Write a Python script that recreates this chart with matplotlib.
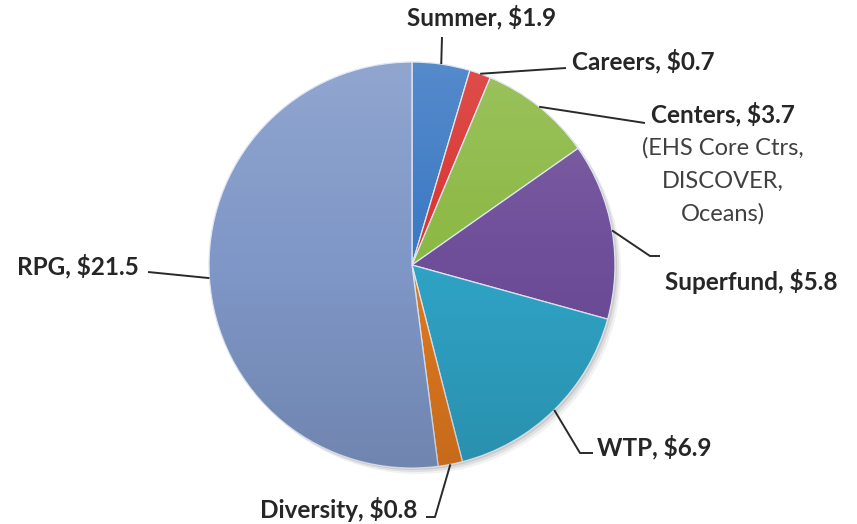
import numpy as np
import matplotlib.pyplot as plt

plt.rcParams["font.family"] = ["Lato", "DejaVu Sans"]

# budget by program ($ millions)
labels = ["Summer", "Careers", "Centers", "Superfund", "WTP", "Diversity", "RPG"]
values = [1.9, 0.7, 3.7, 5.8, 6.9, 0.8, 21.5]
colors = ["#3a78c3", "#d9322e", "#8bb843", "#6e4d99", "#2fa3c5", "#e0791f", "#7f97c7"]
centers_note = ["(EHS Core Ctrs,", "DISCOVER,", "Oceans)"]

W, H = 857, 524
cx, cy, r = 412, 265, 203

fig = plt.figure(figsize=(W / 100, H / 100), dpi=100)
ax = fig.add_axes([0, 0, 1, 1])

# soft shadow behind the pie
for k, a in [(6, 0.05), (4, 0.07), (2, 0.09)]:
    ax.add_patch(plt.Circle((cx + k, cy + k), r, color="black", alpha=a, lw=0))

# y axis is flipped, so counterclockwise in data runs clockwise on screen
wedges, _ = ax.pie(values, colors=colors, startangle=-90, counterclock=True,
                   center=(cx, cy), radius=r, frame=True,
                   wedgeprops=dict(edgecolor="#dfe7f3", linewidth=0.9))
ax.set_xlim(0, W)
ax.set_ylim(H, 0)
ax.set_aspect("equal")
ax.axis("off")

# light-to-dark vertical sheen over the pie
grad = np.linspace(0, 1, 256)[:, None]
sheen = np.zeros((256, 1, 4))
sheen[..., :3] = np.where(grad < 0.5, 1.0, 0.0)[..., None]
sheen[..., 3] = np.where(grad < 0.5, 0.14 * (1 - 2 * grad), 0.12 * (2 * grad - 1))
im = ax.imshow(sheen, extent=(cx - r, cx + r, cy + r, cy - r), aspect="auto",
               interpolation="bilinear", zorder=3)
im.set_clip_path(plt.Circle((cx, cy), r, transform=ax.transData))
ax.set_xlim(0, W)
ax.set_ylim(H, 0)

# leader line bends and label positions (screen pixels)
layout = {
    "Summer":    dict(path=[(442, 37)], xy=(482, 17), ha="center"),
    "Careers":   dict(path=[(566, 68)], xy=(572, 61), ha="left"),
    "Centers":   dict(path=[(645, 123)], xy=(723, 114), ha="center"),
    "Superfund": dict(path=[(650, 256), (660, 256)], xy=(665, 282), ha="left"),
    "WTP":       dict(path=[(580, 453), (593, 453)], xy=(597, 447), ha="left"),
    "Diversity": dict(path=[(435, 517), (426, 517)], xy=(417, 509), ha="right"),
    "RPG":       dict(path=[(148, 272)], xy=(139, 266), ha="right"),
}

total = sum(values)
cum = np.cumsum([0] + values)
for i, (lab, v) in enumerate(zip(labels, values)):
    mid = -90 + 360 * (cum[i] + v / 2) / total
    ax0 = cx + r * np.cos(np.radians(mid))
    ay0 = cy + r * np.sin(np.radians(mid))
    lay = layout[lab]
    xs = [ax0] + [p[0] for p in lay["path"]]
    ys = [ay0] + [p[1] for p in lay["path"]]
    ax.plot(xs, ys, color="#2a2a2a", lw=1.4, solid_capstyle="butt", zorder=4)
    ax.text(lay["xy"][0], lay["xy"][1], f"{lab}, ${v}", ha=lay["ha"], va="center",
            fontsize=17.5, fontweight="bold", color="#262626")

for j, line in enumerate(centers_note):
    ax.text(723, 148 + j * 33, line, ha="center", va="center",
            fontsize=17, color="#404040")

plt.savefig("out.png", dpi=100)
